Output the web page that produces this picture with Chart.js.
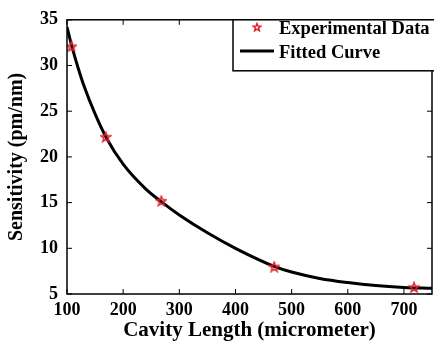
<!DOCTYPE html>
<html>
<head>
<meta charset="utf-8">
<script src="https://cdn.jsdelivr.net/npm/chart.js@4"></script>
<style>
  html, body { margin: 0; padding: 0; background: #fff; overflow: hidden; }
  #wrap { width: 437px; height: 343px; }
</style>
</head>
<body>
<div id="wrap"><canvas id="sens-chart"></canvas></div>
<script>
// Measured points
const cavityLength = [108, 169, 268, 469, 718];
const sensitivity = [32.1, 22.2, 15.2, 8.0, 5.75];

// Fitted curve
const fitLength = [100, 110, 120, 130, 150, 170, 200, 240, 270, 300, 350, 400, 470, 500, 550, 600, 650, 700, 750];
const fitSensitivity = [34.2, 31.8, 29.7, 27.8, 24.7, 22.1, 19.2, 16.5, 15.0, 13.65, 11.7, 10.0, 8.0, 7.4, 6.7, 6.25, 5.92, 5.72, 5.62];

const xTicks = [100, 200, 300, 400, 500, 600, 700];
const yTicks = [5, 10, 15, 20, 25, 30, 35];

const serif = "'Liberation Serif', 'Times New Roman', serif";
const red = '#e0202a';

// hollow five point star for the markers
function starImage(size, color) {
  const c = document.createElement('canvas');
  c.width = size; c.height = size;
  const ctx = c.getContext('2d');
  const cx = size / 2, cy = size / 2 + 0.5;
  const outer = size / 2 - 1, inner = outer * 0.42;
  ctx.beginPath();
  for (let i = 0; i < 10; i++) {
    const r = i % 2 === 0 ? outer : inner;
    const a = -Math.PI / 2 + i * Math.PI / 5;
    const px = cx + r * Math.cos(a), py = cy + r * Math.sin(a);
    if (i === 0) ctx.moveTo(px, py); else ctx.lineTo(px, py);
  }
  ctx.closePath();
  ctx.strokeStyle = color;
  ctx.lineWidth = 1.5;
  ctx.stroke();
  return c;
}
const star = starImage(12, red);
const legendStar = starImage(10, red);

// box, inward ticks and legend
const framePlugin = {
  id: 'frame',
  afterDraw(chart) {
    const { ctx, chartArea: a, scales } = chart;
    ctx.save();
    ctx.strokeStyle = '#000';
    ctx.lineWidth = 1.5;
    ctx.strokeRect(a.left, a.top, a.right - a.left, a.bottom - a.top);
    ctx.lineWidth = 1;
    const len = 5;
    xTicks.forEach(v => {
      const x = scales.x.getPixelForValue(v);
      ctx.beginPath();
      ctx.moveTo(x, a.bottom); ctx.lineTo(x, a.bottom - len);
      ctx.moveTo(x, a.top); ctx.lineTo(x, a.top + len);
      ctx.stroke();
    });
    yTicks.forEach(v => {
      const y = scales.y.getPixelForValue(v);
      ctx.beginPath();
      ctx.moveTo(a.left, y); ctx.lineTo(a.left + len, y);
      ctx.moveTo(a.right, y); ctx.lineTo(a.right - len, y);
      ctx.stroke();
    });

    // legend
    const lx = 233, ly = a.top, lw = 210, lh = 51;
    ctx.fillStyle = '#fff';
    ctx.fillRect(lx, ly, lw, lh);
    ctx.lineWidth = 1.5;
    ctx.strokeRect(lx, ly, lw, lh);
    ctx.drawImage(legendStar, 252, 22);
    ctx.lineWidth = 3;
    ctx.beginPath();
    ctx.moveTo(240, 51); ctx.lineTo(274, 51);
    ctx.stroke();
    ctx.fillStyle = '#000';
    ctx.font = "bold 18.5px " + serif;
    ctx.textBaseline = 'middle';
    ctx.fillText(chart.data.datasets[0].label, 279, 29);
    ctx.fillText(chart.data.datasets[1].label, 279, 53);
    ctx.restore();
  }
};

new Chart(document.getElementById('sens-chart'), {
  type: 'scatter',
  data: {
    datasets: [{
      label: 'Experimental Data',
      data: cavityLength.map((x, i) => ({ x: x, y: sensitivity[i] })),
      pointStyle: star,
      order: 0
    }, {
      type: 'line',
      label: 'Fitted Curve',
      data: fitLength.map((x, i) => ({ x: x, y: fitSensitivity[i] })),
      borderColor: '#000',
      borderWidth: 3,
      pointRadius: 0,
      fill: false,
      cubicInterpolationMode: 'monotone',
      order: 1
    }]
  },
  options: {
    responsive: true,
    maintainAspectRatio: false,
    animation: false,
    layout: { padding: { top: 14, right: 2, left: 0, bottom: 0 } },
    plugins: { legend: { display: false }, tooltip: { enabled: false } },
    scales: {
      x: {
        type: 'linear',
        min: 100,
        max: 750,
        afterBuildTicks: s => { s.ticks = xTicks.map(v => ({ value: v })); },
        afterFit: s => { s.height = 49; },
        grid: { display: false, drawTicks: false, tickLength: 0 },
        border: { display: false },
        ticks: { color: '#000', padding: 6, font: { family: serif, size: 18, weight: 'bold' } },
        title: {
          display: true,
          text: 'Cavity Length (micrometer)',
          color: '#000',
          padding: { top: 0, bottom: 0 },
          font: { family: serif, size: 21, weight: 'bold' }
        }
      },
      y: {
        min: 5,
        max: 35,
        afterBuildTicks: s => { s.ticks = yTicks.map(v => ({ value: v })); },
        afterFit: s => { s.width = 67; },
        grid: { display: false, drawTicks: false, tickLength: 0 },
        border: { display: false },
        ticks: { color: '#000', padding: 9, font: { family: serif, size: 18, weight: 'bold' } },
        title: {
          display: true,
          text: 'Sensitivity (pm/nm)',
          color: '#000',
          padding: { top: 5, bottom: 0 },
          font: { family: serif, size: 20, weight: 'bold' }
        }
      }
    }
  },
  plugins: [framePlugin]
});
</script>
</body>
</html>
